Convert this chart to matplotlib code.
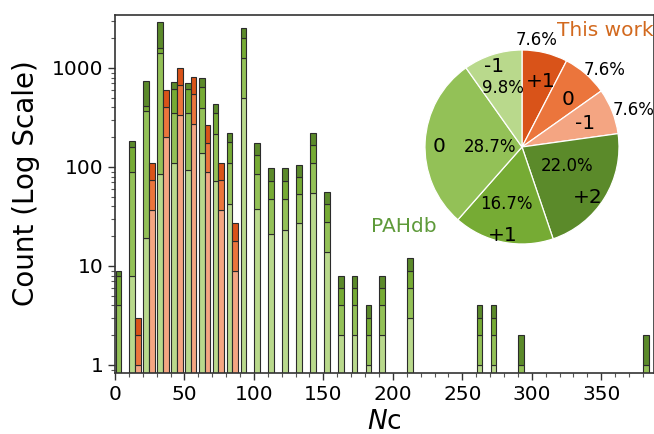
import numpy as np
import matplotlib
matplotlib.use("Agg")
import matplotlib.pyplot as plt
from matplotlib.ticker import MultipleLocator, LogLocator, NullFormatter, FixedLocator

# ---------------- data ----------------
# PAHdb, counts per Nc bin (bin width 10), by charge state
pah_bins = [0, 10, 20, 30, 40, 50, 60, 70, 80, 90, 100, 110, 120, 130, 140,
            150, 160, 170, 180, 190, 210, 260, 270, 290, 380]
pah_m1 = [0, 8, 19, 85, 111, 94, 137, 73, 42, 500, 38, 21, 23, 27, 55,
          14, 2, 2, 1, 2, 3, 1, 1, 0, 0]
pah_0 = [4, 81, 346, 1345, 238, 255, 255, 141, 67, 750, 47, 26, 25, 26, 55,
         14, 2, 2, 1, 2, 3, 1, 1, 1, 1]
pah_p1 = [4, 69, 51, 160, 264, 264, 255, 140, 69, 775, 47, 25, 25, 27, 55,
          14, 2, 2, 1, 2, 3, 1, 1, 0, 0]
pah_p2 = [1, 25, 324, 1300, 109, 98, 140, 76, 41, 485, 41, 25, 25, 25, 55,
          14, 2, 2, 1, 2, 3, 1, 1, 1, 1]

# This work, counts per Nc bin by charge state
tw_bins = [10, 20, 30, 40, 50, 60, 70, 80]
tw_m1 = [1, 37, 200, 333, 273, 88, 37, 9]
tw_0 = [1, 37, 200, 333, 273, 88, 37, 9]
tw_p1 = [1, 37, 200, 333, 273, 88, 37, 9]

# pie chart shares (%)
pie_labels = ["+1", "0", "-1", "+2", "+1", "0", "-1"]
pie_values = [7.6, 7.6, 7.6, 22.0, 16.7, 28.7, 9.8]

y_ticks = [1, 10, 100, 1000]
y_ticklabels = ["1", "10", "100", "1000"]

# ---------------- style ----------------
g_cols = ["#b9d98c", "#93c157", "#76ab34", "#5b8a2a"]   # -1, 0, +1, +2
o_cols = ["#f4a582", "#eb753c", "#d95319"]              # -1, 0, +1
pie_cols = [o_cols[2], o_cols[1], o_cols[0], g_cols[3], g_cols[2], g_cols[1], g_cols[0]]

W, H = 654, 434
fig = plt.figure(figsize=(W / 100, H / 100), dpi=100)
ax = fig.add_axes([115 / W, 61 / H, 539 / W, 358 / H])

edge = dict(edgecolor="#2b2b2b", linewidth=0.8)

def stack(ax, x, layers, colors, width):
    bottom = np.zeros(len(x))
    for vals, c in zip(layers, colors):
        vals = np.asarray(vals, dtype=float)
        m = vals > 0
        ax.bar(np.asarray(x)[m], vals[m], width=width, bottom=bottom[m],
               align="edge", color=c, **edge)
        bottom = bottom + vals

stack(ax, np.asarray(pah_bins) + 0.4, [pah_m1, pah_0, pah_p1, pah_p2], g_cols, 4.1)
stack(ax, np.asarray(tw_bins) + 4.5, [tw_m1, tw_0, tw_p1], o_cols, 4.1)

ax.set_yscale("log")
ax.set_ylim(0.83, 3430)
ax.set_xlim(0, 388)

ax.yaxis.set_major_locator(FixedLocator(y_ticks))
ax.set_yticklabels(y_ticklabels)
ax.yaxis.set_minor_locator(LogLocator(base=10, subs=np.arange(2, 10)))
ax.yaxis.set_minor_formatter(NullFormatter())
ax.xaxis.set_major_locator(MultipleLocator(50))
ax.xaxis.set_minor_locator(MultipleLocator(10))

ax.tick_params(which="major", direction="out", length=5, width=1, labelsize=14.5, color="#333333")
ax.tick_params(which="minor", direction="out", length=3, width=0.8, color="#555555")
for s in ax.spines.values():
    s.set_color("#333333")
    s.set_linewidth(1.2)

ax.set_ylabel("Count (Log Scale)", fontsize=20)
ax.yaxis.set_label_coords(-0.139, 0.53)
ax.set_xlabel(r"$\mathit{N}$c", fontsize=19, labelpad=4)

# ---------------- pie inset ----------------
axp = fig.add_axes([425 / W, (H - 244) / H, 194 / W, 194 / H])
wedges, _ = axp.pie(pie_values, colors=pie_cols, startangle=90, counterclock=False,
                    radius=1.0, wedgeprops=dict(edgecolor="white", linewidth=0.9))
axp.set_xlim(-1, 1)
axp.set_ylim(-1, 1)

lab_r = [0.70, 0.68, 0.70, 0.85, 0.93, 0.85, 0.88]
lab_da = [-2, -3, -1, -6, -1, 3, 1.4]
pct_r = [1.11, 1.17, 1.21, 0.50, 0.61, 0.33, 0.64]
pct_da = [5.7, -6, -3.4, 8.7, -3.7, 3.1, 0.4]

for i, w in enumerate(wedges):
    mid = 0.5 * (w.theta1 + w.theta2)
    a = np.deg2rad(mid + lab_da[i])
    axp.text(lab_r[i] * np.cos(a), lab_r[i] * np.sin(a), pie_labels[i],
             ha="center", va="center", fontsize=14.5, color="black")
    a = np.deg2rad(mid + pct_da[i])
    axp.text(pct_r[i] * np.cos(a), pct_r[i] * np.sin(a), f"{pie_values[i]:.1f}%",
             ha="center", va="center", fontsize=12, color="black")

fig.text(605 / W, 1 - 30 / H, "This work", ha="center", va="center",
         fontsize=14.5, color="#d2691e")
fig.text(404 / W, 1 - 227 / H, "PAHdb", ha="center", va="center",
         fontsize=14.5, color="#5e9a3a")

fig.savefig("out.png", dpi=100)
